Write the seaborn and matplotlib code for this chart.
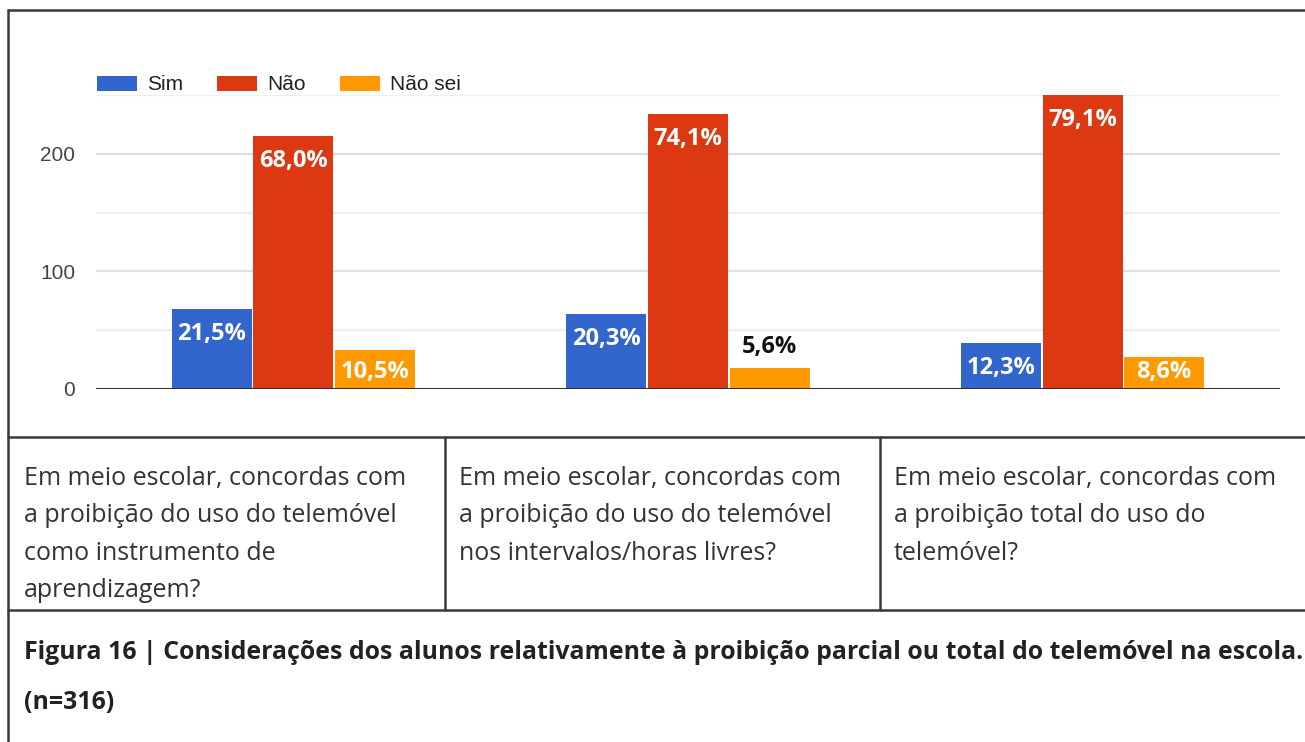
import numpy as np
import pandas as pd
import matplotlib
matplotlib.use("Agg")
import matplotlib.pyplot as plt
import seaborn as sns
from matplotlib.lines import Line2D

# ---------------- data ----------------
questions = ["Q1", "Q2", "Q3"]
answers = ["Sim", "Não", "Não sei"]
sim_counts = [68, 64, 39]
nao_counts = [215, 234, 250]
naosei_counts = [33, 18, 27]
sim_labels = ["21,5%", "20,3%", "12,3%"]
nao_labels = ["68,0%", "74,1%", "79,1%"]
naosei_labels = ["10,5%", "5,6%", "8,6%"]
yticks = [0, 100, 200]
question_texts = [
    ["Em meio escolar, concordas com", "a proibição do uso do telemóvel",
     "como instrumento de", "aprendizagem?"],
    ["Em meio escolar, concordas com", "a proibição do uso do telemóvel",
     "nos intervalos/horas livres?"],
    ["Em meio escolar, concordas com", "a proibição total do uso do",
     "telemóvel?"],
]
caption_lines = [
    "Figura 16 | Considerações dos alunos relativamente à proibição parcial ou total do telemóvel na escola.",
    "(n=316)",
]

colors = {"Sim": "#3366cc", "Não": "#dc3912", "Não sei": "#ff9900"}

df = pd.DataFrame({
    "question": questions * 3,
    "answer": ["Sim"] * 3 + ["Não"] * 3 + ["Não sei"] * 3,
    "count": sim_counts + nao_counts + naosei_counts,
    "label": sim_labels + nao_labels + naosei_labels,
})

# ---------------- figure ----------------
W, H = 1305, 742
sns.set_theme(style="white")
plt.rcParams["font.family"] = ["Liberation Sans", "DejaVu Sans"]
fig = plt.figure(figsize=(W / 100, H / 100), dpi=100)
fig.patch.set_facecolor("white")


def fx(x):
    return x / W


def fy(y):
    return 1 - y / H


ax_left, ax_right, ax_top, ax_bot = 96, 1280, 95, 389
ax = fig.add_axes([fx(ax_left), fy(ax_bot), fx(ax_right - ax_left), (ax_bot - ax_top) / H])

sns.barplot(data=df, x="question", y="count", hue="answer", hue_order=answers,
            order=questions, palette=colors, width=0.62, gap=0.02,
            saturation=1, ax=ax, legend=False, edgecolor="none")

ax.set_xlim(-0.5, 2.5)
ax.set_ylim(0, 250)
ax.set_yticks(yticks)
ax.set_yticks([50, 150, 250], minor=True)
ax.set_yticklabels([str(t) for t in yticks], color="#444444", fontsize=15)
ax.tick_params(axis="y", which="both", length=0, pad=15)
ax.set_xticks([])
ax.set_xlabel("")
ax.set_ylabel("")
for s in ax.spines.values():
    s.set_visible(False)
ax.grid(axis="y", which="major", color="#dedede", linewidth=1.6)
ax.grid(axis="y", which="minor", color="#efefef", linewidth=1.6)
ax.set_axisbelow(True)
ax.axhline(0, color="#333333", linewidth=2.2, zorder=5)

# bar labels
px_per_unit = (ax_bot - ax_top) / 250.0
for cont, ans in zip(ax.containers, answers):
    sub = df[df["answer"] == ans]
    for patch, (_, row) in zip(cont.patches, sub.iterrows()):
        xc = patch.get_x() + patch.get_width() / 2
        v = row["count"]
        if v * px_per_unit < 28:
            yc = v + 21 / px_per_unit
            col = "#111111"
        else:
            yc = max(v - 25 / px_per_unit, 17 / px_per_unit)
            col = "white"
        ax.text(xc, yc, row["label"], ha="center", va="center", color=col,
                fontsize=17, fontweight="bold", family="Open Sans", zorder=6)

# legend
handles = [plt.Rectangle((0, 0), 1, 1, facecolor=colors[a], edgecolor="none") for a in answers]
fs = 15
fspx = fs * 100 / 72
leg = fig.legend(handles, answers, loc="center left",
                 bbox_to_anchor=(fx(97), fy(85)), ncol=3, frameon=False,
                 fontsize=fs, handlelength=40 / fspx, handleheight=0.75,
                 handletextpad=10 / fspx, columnspacing=34 / fspx,
                 borderpad=0, borderaxespad=0)
for t in leg.get_texts():
    t.set_color("#222222")

# ---------------- frame & table ----------------
lc = "#3a3a3a"
lw = 1.8


def hline(y, x0, x1):
    fig.add_artist(Line2D([fx(x0), fx(x1)], [fy(y), fy(y)], color=lc, linewidth=lw))


def vline(x, y0, y1):
    fig.add_artist(Line2D([fx(x), fx(x)], [fy(y0), fy(y1)], color=lc, linewidth=lw))


hline(10, 8, W)
vline(8, 10, H)
hline(437, 8, W)
hline(610, 8, W)
vline(445, 437, 610)
vline(880, 437, 610)

cell_x = [24, 459, 894]
base_y0 = 485
line_step = 37.3
for cx, lines in zip(cell_x, question_texts):
    for i, ln in enumerate(lines):
        fig.text(fx(cx), fy(base_y0 + i * line_step), ln, ha="left", va="baseline",
                 fontsize=18, color="#333333", family="Open Sans")

cap_y = [659, 709]
for yy, ln in zip(cap_y, caption_lines):
    fig.text(fx(24), fy(yy), ln, ha="left", va="baseline", fontsize=17.9,
             fontweight="bold", color="#222222", family="Open Sans")

fig.savefig("out.png", dpi=100, facecolor="white")
